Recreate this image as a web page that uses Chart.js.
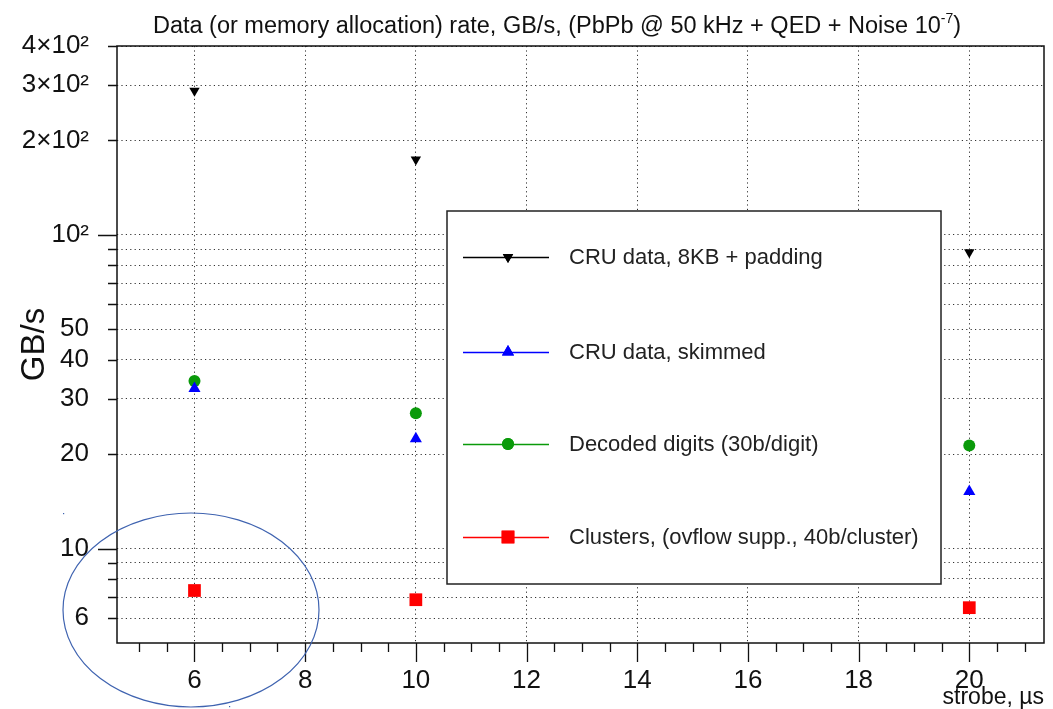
<!DOCTYPE html>
<html><head><meta charset="utf-8">
<script src="https://cdn.jsdelivr.net/npm/chart.js@4/dist/chart.umd.min.js"></script>
<style>html,body{margin:0;padding:0;background:#fff;}#wrap{width:1053px;height:709px;}</style>
</head><body><div id="wrap"><canvas id="c" width="1053" height="709"></canvas></div>
<script>
// ---- data ----
const strobe = [6, 10, 20];
const cruPadded = [288, 174, 88];
const cruSkimmed = [32.4, 22.4, 15.2];
const decodedDigits = [34.2, 27.0, 21.3];
const clusters = [7.35, 6.87, 6.48];
const seriesNames = ['CRU data, 8KB + padding', 'CRU data, skimmed', 'Decoded digits (30b/digit)', 'Clusters, (ovflow supp., 40b/cluster)'];
const titleMain = 'Data (or memory allocation) rate, GB/s, (PbPb @ 50 kHz + QED + Noise 10';
const titleSup = '-7';
const titleEnd = ')';
const yTitle = 'GB/s';
const xTitle = 'strobe, \u00b5s';
const xMajorTicks = [6, 8, 10, 12, 14, 16, 18, 20];
const xMinorStep = 0.5;
const yTickValues = [6, 7, 8, 9, 10, 20, 30, 40, 50, 60, 70, 80, 90, 100, 200, 300, 400];
const yTickLabels = {6: '6', 10: '10', 20: '20', 30: '30', 40: '40', 50: '50', 100: '10\u00b2', 200: '2\u00d710\u00b2', 300: '3\u00d710\u00b2', 400: '4\u00d710\u00b2'};
const yDecades = [10, 100];

const FONT = '"Liberation Sans", Arial, Helvetica, sans-serif';
const pts = (ys) => strobe.map((x, i) => ({x, y: ys[i]}));

const styles = [
  {color: '#000000', pointStyle: 'triangle', rotation: 180, radius: 6},
  {color: '#0000ff', pointStyle: 'triangle', rotation: 0, radius: 7},
  {color: '#0a9a0a', pointStyle: 'circle', rotation: 0, radius: 6},
  {color: '#ff0000', pointStyle: 'rect', rotation: 0, radius: 9},
];
const seriesData = [cruPadded, cruSkimmed, decodedDigits, clusters];

const datasets = seriesData.map((d, i) => ({
  label: seriesNames[i], data: pts(d), showLine: false,
  pointStyle: styles[i].pointStyle, rotation: styles[i].rotation,
  pointRadius: styles[i].radius, pointHoverRadius: styles[i].radius,
  backgroundColor: styles[i].color, borderColor: styles[i].color, pointBorderWidth: 0
}));

const deco = {
  id: 'deco',
  afterDraw(chart) {
    const {ctx, chartArea: a, scales: {x, y}} = chart;
    ctx.save();
    // frame
    ctx.strokeStyle = '#111'; ctx.lineWidth = 1.5; ctx.setLineDash([]);
    ctx.strokeRect(a.left, a.top, a.right - a.left, a.bottom - a.top);
    // y ticks
    ctx.lineWidth = 1.3;
    ctx.beginPath();
    yTickValues.forEach(v => {
      const p = Math.round(y.getPixelForValue(v)) + 0.5;
      const len = yDecades.includes(v) ? 19 : 9;
      ctx.moveTo(a.left - len, p); ctx.lineTo(a.left, p);
    });
    // x ticks
    for (let v = Math.ceil(x.min / xMinorStep) * xMinorStep; v <= x.max + 1e-9; v += xMinorStep) {
      const p = Math.round(x.getPixelForValue(v)) + 0.5;
      const len = xMajorTicks.includes(v) ? 19 : 9;
      ctx.moveTo(p, a.bottom); ctx.lineTo(p, a.bottom + len);
    }
    ctx.stroke();
    // title
    ctx.fillStyle = '#111';
    ctx.textBaseline = 'alphabetic';
    const f1 = '23.5px ' + FONT, f2 = '14px ' + FONT;
    ctx.font = f1; const w1 = ctx.measureText(titleMain).width; const w3 = ctx.measureText(titleEnd).width;
    ctx.font = f2; const w2 = ctx.measureText(titleSup).width;
    let tx = 557 - (w1 + w2 + w3) / 2; const ty = 33;
    ctx.textAlign = 'left';
    ctx.font = f1; ctx.fillText(titleMain, tx, ty); tx += w1;
    ctx.font = f2; ctx.fillText(titleSup, tx, ty - 10); tx += w2;
    ctx.font = f1; ctx.fillText(titleEnd, tx, ty);
    // legend
    const L = {left: 447, top: 211, right: 941, bottom: 584};
    ctx.fillStyle = '#fff';
    ctx.fillRect(L.left, L.top, L.right - L.left, L.bottom - L.top);
    ctx.strokeStyle = '#222'; ctx.lineWidth = 1.5;
    ctx.strokeRect(L.left, L.top, L.right - L.left, L.bottom - L.top);
    const rowY = [257, 352, 444, 537];
    ctx.font = '22px ' + FONT; ctx.textBaseline = 'middle'; ctx.textAlign = 'left';
    seriesNames.forEach((name, i) => {
      const yy = rowY[i];
      ctx.strokeStyle = styles[i].color; ctx.lineWidth = 1.5;
      ctx.beginPath(); ctx.moveTo(463, yy + 0.5); ctx.lineTo(549, yy + 0.5); ctx.stroke();
      ctx.fillStyle = styles[i].color;
      Chart.helpers.drawPoint(ctx, {pointStyle: styles[i].pointStyle, rotation: styles[i].rotation, radius: styles[i].radius, borderWidth: 0}, 508, yy);
      ctx.fill();
      ctx.fillStyle = '#222';
      ctx.fillText(name, 569, yy + 1);
    });
    // hand-drawn ellipse annotation
    ctx.strokeStyle = '#3f63b0'; ctx.lineWidth = 1.2;
    ctx.beginPath(); ctx.ellipse(191, 610, 128, 97, 0, 0, Math.PI * 2); ctx.stroke();
    ctx.fillStyle = '#3f63b0';
    ctx.fillRect(63, 513, 1.2, 1.2); ctx.fillRect(229, 706, 1.2, 1.2);
    ctx.restore();
  }
};

new Chart(document.getElementById('c'), {
  type: 'scatter',
  data: {datasets},
  plugins: [deco],
  options: {
    responsive: false, animation: false, devicePixelRatio: 1,
    layout: {padding: {top: 46, right: 6, left: 0, bottom: 0}},
    plugins: {legend: {display: false}, title: {display: false}, tooltip: {enabled: false}},
    scales: {
      x: {
        type: 'linear', min: 4.6, max: 21.35,
        afterBuildTicks: s => { s.ticks = xMajorTicks.map(v => ({value: v})); },
        afterFit: s => { s.height = 66; s.paddingLeft = 0; s.paddingRight = 0; },
        ticks: {autoSkip: false, maxRotation: 0, padding: 22, color: '#111', font: {family: FONT, size: 26}, callback: v => String(v)},
        grid: {color: '#333', lineWidth: 1, drawTicks: false},
        border: {display: false, dash: [1.2, 3.2]},
        title: {display: true, text: xTitle, align: 'end', color: '#111', font: {family: FONT, size: 23, lineHeight: 1}, padding: {top: 0, bottom: 0}}
      },
      y: {
        type: 'logarithmic', min: 5, max: 400,
        afterBuildTicks: s => { s.ticks = yTickValues.map(v => ({value: v})); },
        afterFit: s => { s.width = 117; s.paddingTop = 0; s.paddingBottom = 0; },
        ticks: {autoSkip: false, padding: 28, color: '#111', font: {family: FONT, size: 26}, callback: v => yTickLabels[v] || ''},
        grid: {color: '#333', lineWidth: 1, drawTicks: false},
        border: {display: false, dash: [1.2, 3.2]},
        title: {display: true, text: yTitle, color: '#111', font: {family: FONT, size: 33, lineHeight: 1.2}, padding: {top: 15, bottom: 0}}
      }
    }
  }
});
</script></body></html>
